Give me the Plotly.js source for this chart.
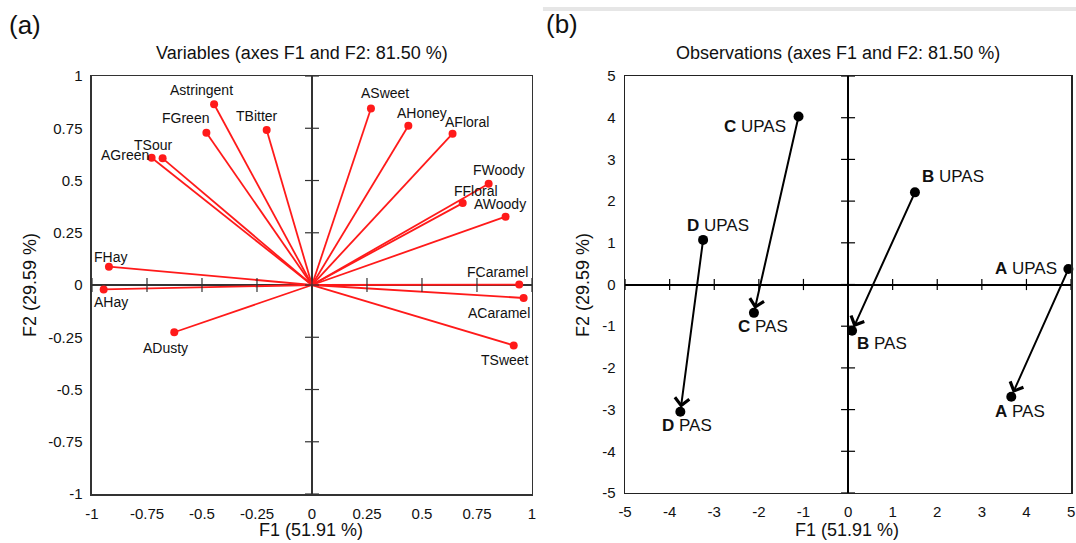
<!DOCTYPE html>
<html><head><meta charset="utf-8">
<script src="https://cdn.plot.ly/plotly-3.0.1.min.js"></script>
<style>html,body{margin:0;padding:0;background:#fff;} #chart{width:1076px;height:543px;}</style>
</head><body><div id="chart"></div>
<script>
// ---- Panel (a): variable loadings on F1/F2 ----
const varNames = ['Astringent','FGreen','TBitter','TSour','AGreen','FHay','AHay','ADusty','FCaramel','ACaramel','TSweet','ASweet','AHoney','AFloral','FWoody','FFloral','AWoody'];
const varF1 = [-0.445,-0.480,-0.206,-0.679,-0.729,-0.923,-0.947,-0.626,0.942,0.962,0.917,0.268,0.438,0.639,0.803,0.685,0.880];
const varF2 = [0.865,0.729,0.742,0.606,0.609,0.088,-0.021,-0.226,0.002,-0.062,-0.289,0.845,0.762,0.724,0.485,0.392,0.327];

// ---- Panel (b): observations ----
const products = ['A','B','C','D'];
const upasF1 = [4.94,1.50,-1.11,-3.25];
const upasF2 = [0.37,2.21,4.03,1.07];
const pasF1 = [3.66,0.09,-2.11,-3.76];
const pasF2 = [-2.69,-1.11,-0.68,-3.05];

// ---- ticks ----
const ticksA = [-1,-0.75,-0.5,-0.25,0,0.25,0.5,0.75,1];
const tickTextA = ['-1','-0.75','-0.5','-0.25','0','0.25','0.5','0.75','1'];
const ticksB = [-5,-4,-3,-2,-1,0,1,2,3,4,5];
const tickTextB = ['-5','-4','-3','-2','-1','0','1','2','3','4','5'];

// ---- label placement (pixel shifts, style only) ----
const varLabelShift = {
  Astringent:[-13,14], FGreen:[-21,15], TBitter:[-10,14], TSour:[-10,13], AGreen:[-27,3],
  FHay:[2,10], AHay:[7,-13], ADusty:[-9,-16], FCaramel:[-22,13], ACaramel:[-25,-15],
  TSweet:[-9,-15], ASweet:[14,15], AHoney:[14,13], AFloral:[14,12], FWoody:[10,14],
  FFloral:[13,12], AWoody:[-6,13]
};
const upasShift = {A:[-42,1], B:[38,16], C:[-44,-10], D:[15,14]};
const pasShift = {A:[9,-15], B:[30,-13], C:[9,-14], D:[7,-14]};

const FONT = 'Liberation Sans, Arial, Helvetica, sans-serif';
const RED = '#ff1a1a';

const traces = [];
// vectors from origin
const lx = [], ly = [];
varF1.forEach((v,i)=>{ lx.push(0, v, null); ly.push(0, varF2[i], null); });
traces.push({type:'scatter', mode:'lines', x:lx, y:ly, xaxis:'x', yaxis:'y',
  line:{color:RED, width:1.8}, hoverinfo:'skip', cliponaxis:false});
traces.push({type:'scatter', mode:'markers', x:varF1, y:varF2, xaxis:'x', yaxis:'y',
  marker:{color:RED, size:8}, text:varNames, hoverinfo:'text', cliponaxis:false});
// crossing ticks on zero lines (a)
traces.push({type:'scatter', mode:'markers', x:ticksA, y:ticksA.map(()=>0), xaxis:'x', yaxis:'y',
  marker:{symbol:'line-ns-open', size:10, color:'#333', line:{color:'#333', width:1.2}}, hoverinfo:'skip', cliponaxis:false});
traces.push({type:'scatter', mode:'markers', x:ticksA.map(()=>0), y:ticksA, xaxis:'x', yaxis:'y',
  marker:{symbol:'line-ew-open', size:10, color:'#333', line:{color:'#333', width:1.2}}, hoverinfo:'skip', cliponaxis:false});
// crossing ticks on zero lines (b)
traces.push({type:'scatter', mode:'markers', x:ticksB, y:ticksB.map(()=>0), xaxis:'x2', yaxis:'y2',
  marker:{symbol:'line-ns-open', size:8, color:'#000', line:{color:'#000', width:1.2}}, hoverinfo:'skip', cliponaxis:false});
traces.push({type:'scatter', mode:'markers', x:ticksB.map(()=>0), y:ticksB, xaxis:'x2', yaxis:'y2',
  marker:{symbol:'line-ew-open', size:10, color:'#000', line:{color:'#000', width:1.2}}, hoverinfo:'skip', cliponaxis:false});
// observation points
traces.push({type:'scatter', mode:'markers', x:upasF1.concat(pasF1), y:upasF2.concat(pasF2), xaxis:'x2', yaxis:'y2',
  marker:{color:'#000', size:10}, hoverinfo:'x+y', cliponaxis:false});

const annotations = [];
varNames.forEach((n,i)=>{
  const s = varLabelShift[n];
  annotations.push({xref:'x', yref:'y', x:varF1[i], y:varF2[i], text:n, showarrow:false,
    xanchor:'center', yanchor:'middle', xshift:s[0], yshift:s[1], font:{family:FONT, size:14, color:'#111'}});
});
products.forEach((p,i)=>{
  annotations.push({xref:'x2', yref:'y2', axref:'x2', ayref:'y2', x:pasF1[i], y:pasF2[i], ax:upasF1[i], ay:upasF2[i],
    text:'', showarrow:true, arrowhead:4, arrowsize:1.4, arrowwidth:2, arrowcolor:'#000', standoff:4});
  const su = upasShift[p], sp = pasShift[p];
  annotations.push({xref:'x2', yref:'y2', x:upasF1[i], y:upasF2[i], text:'<b>'+p+'</b> UPAS', showarrow:false,
    xanchor:'center', yanchor:'middle', xshift:su[0], yshift:su[1], font:{family:FONT, size:17, color:'#111'}});
  annotations.push({xref:'x2', yref:'y2', x:pasF1[i], y:pasF2[i], text:'<b>'+p+'</b> PAS', showarrow:false,
    xanchor:'center', yanchor:'middle', xshift:sp[0], yshift:sp[1], font:{family:FONT, size:17, color:'#111'}});
});
// titles
const tfont = {family:FONT, size:18, color:'#111'};
annotations.push({xref:'paper', yref:'paper', x:0.2807, y:0.9024, text:'Variables (axes F1 and F2: 81.50 %)', showarrow:false, xanchor:'center', yanchor:'middle', font:tfont});
annotations.push({xref:'paper', yref:'paper', x:0.7788, y:0.9024, text:'Observations (axes F1 and F2: 81.50 %)', showarrow:false, xanchor:'center', yanchor:'middle', font:tfont});
annotations.push({xref:'paper', yref:'paper', x:0.0065, y:0.954, text:'(a)', showarrow:false, xanchor:'left', yanchor:'middle', font:{family:FONT, size:26, color:'#111'}});
annotations.push({xref:'paper', yref:'paper', x:0.5055, y:0.956, text:'(b)', showarrow:false, xanchor:'left', yanchor:'middle', font:{family:FONT, size:26, color:'#111'}});
annotations.push({xref:'paper', yref:'paper', x:0.289, y:0.024, text:'F1 (51.91 %)', showarrow:false, xanchor:'center', yanchor:'middle', font:tfont});
annotations.push({xref:'paper', yref:'paper', x:0.7876, y:0.024, text:'F1 (51.91 %)', showarrow:false, xanchor:'center', yanchor:'middle', font:tfont});
annotations.push({xref:'paper', yref:'paper', x:0.0279, y:0.475, text:'F2 (29.59 %)', textangle:-90, showarrow:false, xanchor:'center', yanchor:'middle', font:tfont});
annotations.push({xref:'paper', yref:'paper', x:0.5418, y:0.475, text:'F2 (29.59 %)', textangle:-90, showarrow:false, xanchor:'center', yanchor:'middle', font:tfont});

const axBase = {showgrid:false, zeroline:true, showline:true, mirror:true, ticks:'outside', ticklen:5,
  tickcolor:'rgba(0,0,0,0)', tickfont:{family:FONT, size:15, color:'#111'}, fixedrange:true};

const layout = {
  width:1076, height:543, margin:{l:0, r:0, t:0, b:0}, paper_bgcolor:'#fff', plot_bgcolor:'#fff',
  showlegend:false, font:{family:FONT, color:'#111'},
  xaxis:Object.assign({}, axBase, {domain:[0.0855,0.4944], range:[-1,1], tickmode:'array', tickvals:ticksA, ticktext:tickTextA,
    zerolinecolor:'#333', zerolinewidth:1.5, linecolor:'#333', linewidth:1.5, anchor:'y'}),
  yaxis:Object.assign({}, axBase, {domain:[0.0902,0.8600], range:[-1,1], tickmode:'array', tickvals:ticksA, ticktext:tickTextA,
    zerolinecolor:'#333', zerolinewidth:1.5, linecolor:'#333', linewidth:1.5, anchor:'x'}),
  xaxis2:Object.assign({}, axBase, {domain:[0.5809,0.9954], range:[-5,5], tickmode:'array', tickvals:ticksB, ticktext:tickTextB,
    zerolinecolor:'#000', zerolinewidth:2, linecolor:'#222', linewidth:1.5, anchor:'y2'}),
  yaxis2:Object.assign({}, axBase, {domain:[0.0921,0.8600], range:[-5,5], tickmode:'array', tickvals:ticksB, ticktext:tickTextB,
    zerolinecolor:'#000', zerolinewidth:2, linecolor:'#222', linewidth:1.5, anchor:'x2'}),
  shapes:[{type:'line', xref:'paper', yref:'paper', x0:0.5046, x1:1, y0:0.9834, y1:0.9834, line:{color:'#e6e6e6', width:4}}],
  annotations:annotations
};

Plotly.newPlot('chart', traces, layout, {displayModeBar:false, staticPlot:true});
</script>
</body></html>
